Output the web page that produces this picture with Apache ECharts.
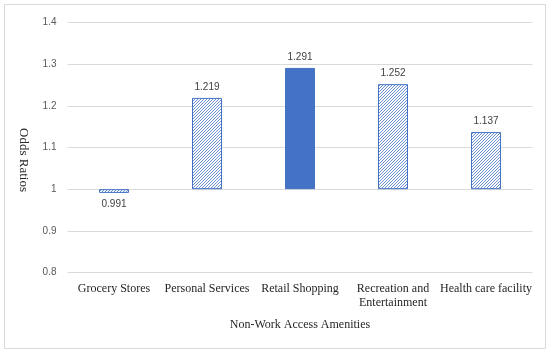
<!DOCTYPE html>
<html><head><meta charset="utf-8">
<script src="https://cdn.jsdelivr.net/npm/echarts@6/dist/echarts.min.js"></script>
<style>html,body{margin:0;padding:0;background:#fff}#c{width:550px;height:353px}</style>
</head><body><div id="c"></div>
<script>
const categories = ['Grocery Stores', 'Personal Services', 'Retail Shopping', 'Recreation and\nEntertainment', 'Health care facility'];
const oddsRatios = [0.991, 1.219, 1.291, 1.252, 1.137];
const highlighted = [false, false, true, false, false];
const baseline = 1;
const yTicks = [0.8, 0.9, 1, 1.1, 1.2, 1.3, 1.4];

const blue = '#4472C4';
function hatch() {
  const s = 3;
  const c = document.createElement('canvas');
  c.width = s; c.height = s;
  const g = c.getContext('2d');
  const img = g.createImageData(s, s);
  for (let y = 0; y < s; y++) for (let x = 0; x < s; x++) {
    const k = (y * s + x) * 4;
    const on = (x + y) % s === s - 1;
    img.data[k] = on ? 0x6a : 255;
    img.data[k + 1] = on ? 0x8f : 255;
    img.data[k + 2] = on ? 0xd3 : 255;
    img.data[k + 3] = 255;
  }
  g.putImageData(img, 0, 0);
  return c;
}
const pat = hatch();

const chart = echarts.init(document.getElementById('c'));
chart.setOption({
  animation: false,
  graphic: [
    {type: 'rect', shape: {x: 4.5, y: 4.5, width: 541, height: 344}, style: {fill: 'none', stroke: '#d9d9d9', lineWidth: 1}, silent: true},
    {type: 'text', x: 23, y: 160, rotation: -Math.PI / 2, silent: true,
      style: {text: 'Odds Ratios', font: '13px "Liberation Serif"', fill: '#262626', align: 'center', verticalAlign: 'middle'}}
  ],
  grid: {left: 67.5, right: 17.5, top: 22.5, bottom: 80.5},
  xAxis: {
    type: 'category', data: categories,
    axisLine: {show: false}, axisTick: {show: false},
    axisLabel: {interval: 0, hideOverlap: false, fontFamily: 'Liberation Serif', fontSize: 12, color: '#262626', margin: 9, lineHeight: 14},
    name: 'Non-Work Access Amenities', nameLocation: 'middle', nameGap: 46,
    nameTextStyle: {fontFamily: 'Liberation Serif', fontSize: 12, color: '#262626'}
  },
  yAxis: {
    type: 'value', min: yTicks[0] - baseline, max: yTicks[yTicks.length - 1] - baseline, interval: 0.1,
    axisLine: {show: false}, axisTick: {show: false},
    splitLine: {lineStyle: {color: '#d9d9d9'}},
    axisLabel: {fontFamily: 'Liberation Sans', fontSize: 10, color: '#595959', margin: 11,
      formatter: v => String(parseFloat((v + baseline).toFixed(1)))}
  },
  series: [{
    type: 'bar', barWidth: 30,
    data: oddsRatios.map((v, i) => ({
      value: v - baseline,
      itemStyle: highlighted[i]
        ? {color: blue, borderColor: blue, borderWidth: 1}
        : {color: {image: pat, repeat: 'repeat'}, borderColor: blue, borderWidth: 1},
      label: {show: true, position: v < baseline ? 'bottom' : 'top', distance: 6,
        formatter: () => v.toFixed(3), fontFamily: 'Liberation Sans', fontSize: 10, color: '#404040'}
    }))
  }]
});
</script></body></html>
